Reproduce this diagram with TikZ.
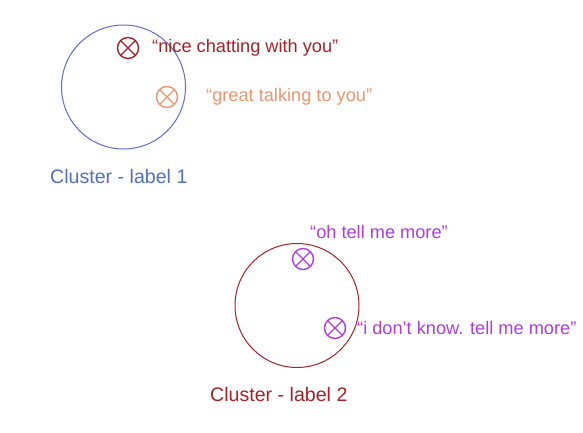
\documentclass[tikz,border=0pt]{standalone}
\usepackage{fontspec}
\setmainfont{Liberation Sans}
\definecolor{cblue}{RGB}{98,108,206}
\definecolor{lblue}{RGB}{80,112,192}
\definecolor{dred}{RGB}{168,32,40}
\definecolor{corange}{RGB}{238,148,108}
\definecolor{cpurple}{RGB}{176,60,224}
\tikzset{
  cluster/.style={circle, draw, line width=1pt, minimum size=124pt, inner sep=0pt},
  marker/.style={circle, draw, line width=1.4pt, minimum size=21pt, inner sep=0pt,
    path picture={\draw[line width=1.4pt] (path picture bounding box.north west) -- (path picture bounding box.south east)
      (path picture bounding box.north east) -- (path picture bounding box.south west);}},
  quote/.style={anchor=west, inner sep=0pt, font=\fontsize{18.2}{20}\selectfont},
  clabel/.style={anchor=west, inner sep=0pt, font=\fontsize{19.6}{22}\selectfont}
}
\begin{document}
\begin{tikzpicture}[x=1pt,y=-1pt]
\useasboundingbox (0,0) rectangle (583,433);
\node[cluster, cblue] (c1) at (123.5,87) {};
\node[marker, dred] (m1) at (128,48) {};
\node[quote, dred] (t1) at (152,48) {“nice chatting with you”};
\node[marker, corange] (m2) at (167,97) {};
\node[quote, corange] (t2) at (206,97) {“great talking to you”};
\node[clabel, lblue] (l1) at (50,176) {Cluster - label 1};
\node[cluster, dred] (c2) at (297,305.5) {};
\node[marker, cpurple] (m3) at (303,259) {};
\node[quote, cpurple] (t3) at (310,232) {“oh tell me more”};
\node[marker, cpurple] (m4) at (335,328) {};
\node[quote, cpurple] (t4) at (357,328) {“i don’t know. tell me more”};
\node[clabel, dred] (l2) at (210,394) {Cluster - label 2};
\end{tikzpicture}
\end{document}
